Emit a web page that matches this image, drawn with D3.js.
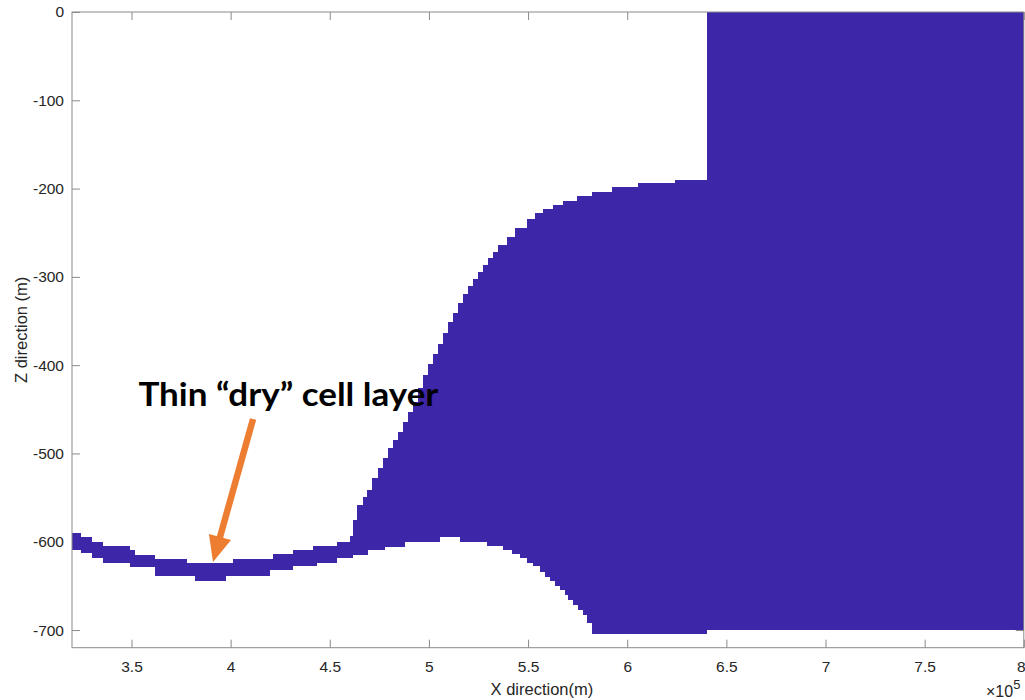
<!DOCTYPE html>
<html>
<head>
<meta charset="utf-8">
<script src="https://cdn.jsdelivr.net/npm/d3@7"></script>
<style>
  body { margin: 0; background: #fff; }
  svg { display: block; }
  .tick text { font-family: "Liberation Sans", Arial, Helvetica, sans-serif; font-size: 15.5px; fill: #262626; }
</style>
</head>
<body>
<svg id="chart" width="1025" height="700"></svg>
<script>
// Upper surface of the cell region: [x (km), z (m)], each value holds until the next x
const topProfile = [
  [320, -590], [324.4, -595], [330.1, -600], [335.8, -605], [349.2, -609], [351.8, -615],
  [361.9, -620], [377.8, -624], [401.3, -620], [421.5, -614], [431.6, -609], [441.7, -605],
  [453.5, -600], [460.2, -594], [461.9, -575], [463.7, -558], [466.7, -549], [468.8, -541],
  [471.3, -528], [474.3, -516], [476.8, -505], [479.4, -494], [481.9, -485], [484.4, -476],
  [486.9, -464], [489.4, -453], [492.0, -442], [494.5, -426], [497.0, -411], [499.5, -399],
  [502.0, -387], [504.6, -376], [507.1, -364], [509.6, -351], [512.1, -341], [514.7, -330],
  [517.2, -319], [519.7, -310], [522.2, -302], [524.7, -294], [527.3, -287], [529.8, -279],
  [532.3, -272], [534.8, -264], [539.4, -255], [543.4, -245], [549.4, -234], [553.5, -228],
  [557.5, -223], [562.6, -219], [567.6, -214], [574.7, -208], [582.2, -204], [592.3, -198],
  [605.4, -194], [624.1, -190], [640, 0]
];

// Lower surface (sea bed) of the cell region: [x (km), z (m)]
const bottomProfile = [
  [320, -609], [324.4, -613], [330.1, -618], [335.8, -624], [349.2, -629], [361.9, -639],
  [382.0, -644], [397.5, -639], [419.8, -632], [431.6, -628], [443.4, -624], [453.5, -618],
  [461.9, -615], [469.4, -609], [477.8, -606], [487.9, -600], [505.6, -595], [515.7, -600],
  [529.1, -605], [537.5, -609], [541.7, -614], [545.9, -618], [549.3, -624], [552.6, -628],
  [556.0, -634], [558.5, -640], [561.0, -645], [563.6, -650], [566.1, -655], [568.6, -660],
  [570.3, -666], [572.8, -672], [575.3, -677], [577.8, -683], [579.6, -692], [582.1, -704],
  [640, -700]
];

// Axis limits and ticks (x in km, labelled in units of 10^5 m)
const xLimits = [320, 800];
const zLimits = [-720, 0];
const xTickValues = [350, 400, 450, 500, 550, 600, 650, 700, 750, 800];
const zTickValues = [0, -100, -200, -300, -400, -500, -600, -700];

// Annotation: label and arrow pointing at the thin layer
const noteText = "Thin \u201Cdry\u201D cell layer";
const noteAnchor = [353.5, -446];            // label start (x km, z m)
const arrowTail = [411.3, -461];
const arrowTip = [391.1, -623];

const svg = d3.select("#chart");
const plot = { left: 72, right: 1023.8, top: 12, bottom: 647.7 };

const x = d3.scaleLinear().domain(xLimits).range([plot.left, plot.right]);
const y = d3.scaleLinear().domain(zLimits).range([plot.bottom, plot.top]);

const axisColor = "#8a8a8a";
const font = "'Liberation Sans', Arial, Helvetica, sans-serif";

function styleAxis(g) {
  g.select(".domain").remove();
  g.selectAll(".tick line").attr("stroke", axisColor).attr("stroke-width", 1);
}

// Tick marks (drawn beneath the patch)
svg.append("g")
  .attr("transform", `translate(0,${plot.bottom})`)
  .call(d3.axisBottom(x).tickValues(xTickValues).tickSize(-8).tickPadding(13)
    .tickFormat(d => String(d / 100)))
  .call(styleAxis)
  // keep the last label inside the page edge
  .call(g => g.selectAll(".tick text").filter(d => d === xLimits[1])
    .attr("text-anchor", "end").attr("x", 1.2));

svg.append("g")
  .attr("transform", `translate(0,${plot.top})`)
  .call(d3.axisTop(x).tickValues(xTickValues).tickSize(-8).tickFormat(""))
  .call(styleAxis);

svg.append("g")
  .attr("transform", `translate(${plot.left},0)`)
  .call(d3.axisLeft(y).tickValues(zTickValues).tickSize(-8).tickPadding(8)
    .tickFormat(d => String(d)))
  .call(styleAxis);

svg.append("g")
  .attr("transform", `translate(${plot.right},0)`)
  .call(d3.axisRight(y).tickValues(zTickValues).tickSize(-8).tickFormat(""))
  .call(styleAxis);

// Cell region: piecewise-constant columns between the two surfaces
function stepAt(profile, xv) {
  let v = profile[0][1];
  for (const [px, pz] of profile) {
    if (px <= xv) v = pz; else break;
  }
  return v;
}
const breaks = Array.from(new Set([
  ...topProfile.map(d => d[0]),
  ...bottomProfile.map(d => d[0]),
  xLimits[1]
])).sort((a, b) => a - b);
const columns = breaks.map(xv => ({ x: xv, top: stepAt(topProfile, xv), bottom: stepAt(bottomProfile, xv) }));

const area = d3.area()
  .x(d => x(d.x))
  .y0(d => y(d.bottom))
  .y1(d => y(d.top))
  .curve(d3.curveStepAfter);

svg.append("path")
  .datum(columns)
  .attr("d", area)
  .attr("fill", "#3E26A8")
  .attr("shape-rendering", "crispEdges");

// Axes box
svg.append("rect")
  .attr("x", plot.left).attr("y", plot.top)
  .attr("width", plot.right - plot.left).attr("height", plot.bottom - plot.top)
  .attr("fill", "none").attr("stroke", axisColor).attr("stroke-width", 1);

// Axis titles
svg.append("text")
  .attr("x", (plot.left + plot.right) / 2 - 6).attr("y", 695)
  .attr("text-anchor", "middle")
  .attr("font-family", font).attr("font-size", 16.5).attr("fill", "#262626")
  .text("X direction(m)");

svg.append("text")
  .attr("transform", `translate(27,${(plot.top + plot.bottom) / 2}) rotate(-90)`)
  .attr("text-anchor", "middle")
  .attr("font-family", font).attr("font-size", 16.5).attr("fill", "#262626")
  .text("Z direction (m)");

const exp = svg.append("text")
  .attr("x", 986).attr("y", 697)
  .attr("font-family", font).attr("font-size", 16).attr("fill", "#262626");
exp.append("tspan").text("\u00D710");
exp.append("tspan").attr("dy", -8).attr("font-size", 13).text("5");

// Annotation label
svg.append("text")
  .attr("x", x(noteAnchor[0])).attr("y", y(noteAnchor[1]))
  .attr("font-family", "Lato, 'Open Sans', sans-serif")
  .attr("font-weight", 700).attr("font-size", 33).attr("fill", "#000")
  .attr("textLength", 300).attr("lengthAdjust", "spacingAndGlyphs")
  .text(noteText);

// Annotation arrow
const t0 = [x(arrowTail[0]), y(arrowTail[1])];
const t1 = [x(arrowTip[0]), y(arrowTip[1])];
const len = Math.hypot(t1[0] - t0[0], t1[1] - t0[1]);
const ux = (t1[0] - t0[0]) / len, uy = (t1[1] - t0[1]) / len;
const headLen = 26, headHalf = 11.5;
const base = [t1[0] - ux * headLen, t1[1] - uy * headLen];
const orange = "#ED7D31";

svg.append("line")
  .attr("x1", t0[0]).attr("y1", t0[1])
  .attr("x2", base[0] + ux * 2).attr("y2", base[1] + uy * 2)
  .attr("stroke", orange).attr("stroke-width", 6.5);

svg.append("path")
  .attr("d", d3.line()([
    t1,
    [base[0] - uy * headHalf, base[1] + ux * headHalf],
    [base[0] + uy * headHalf, base[1] - ux * headHalf]
  ]) + "Z")
  .attr("fill", orange);
</script>
</body>
</html>
